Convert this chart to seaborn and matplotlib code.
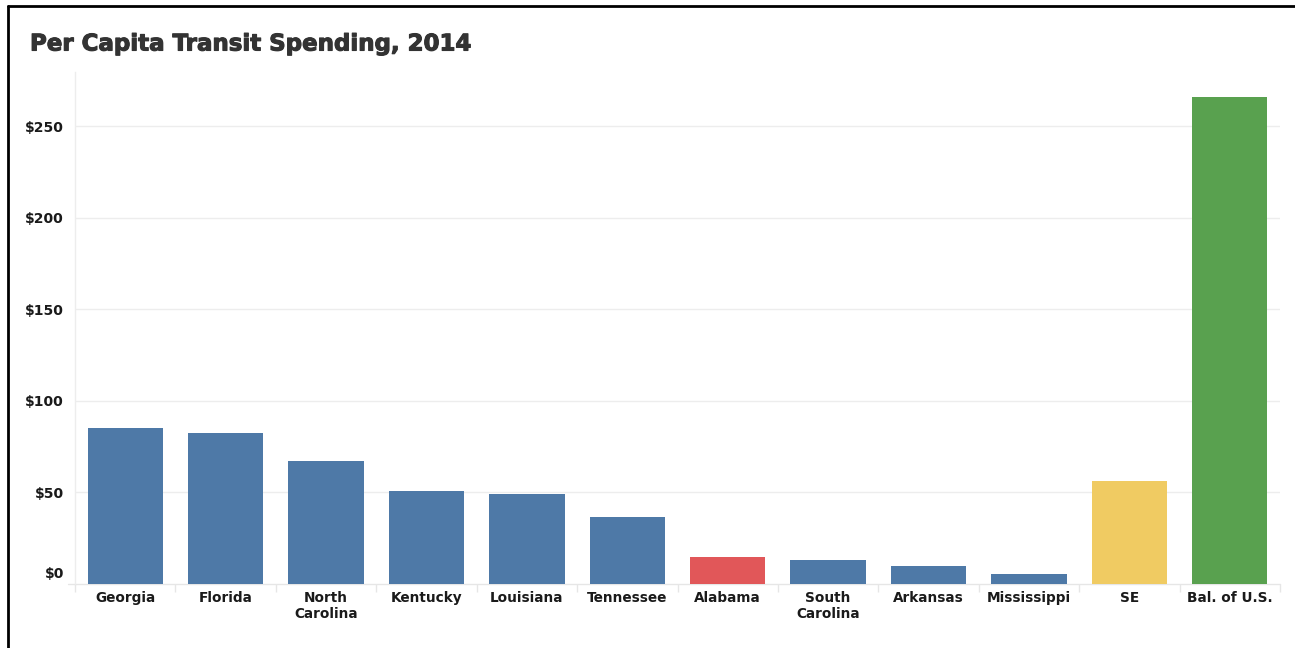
import matplotlib
matplotlib.use("Agg")
import matplotlib.pyplot as plt
import matplotlib.patheffects as pe
from matplotlib.lines import Line2D
from matplotlib.ticker import FixedLocator
from matplotlib.transforms import offset_copy
import seaborn as sns
import pandas as pd

# Per capita transit spending, 2014 (US dollars)
regions = ["Georgia", "Florida", "North\nCarolina", "Kentucky", "Louisiana",
           "Tennessee", "Alabama", "South\nCarolina", "Arkansas", "Mississippi",
           "SE", "Bal. of U.S."]
spending = [85.0, 82.3, 66.9, 50.7, 49.4, 36.5, 14.8, 13.3, 9.8, 5.6, 56.2, 265.7]
groups = ["State"] * 6 + ["Alabama"] + ["State"] * 3 + ["Southeast", "Rest of U.S."]
group_colors = {"State": "#4E79A7", "Alabama": "#E15759",
                "Southeast": "#F0CB62", "Rest of U.S.": "#59A14F"}
y_ticks = [0, 50, 100, 150, 200, 250]
y_tick_labels = ["$0", "$50", "$100", "$150", "$200", "$250"]

df = pd.DataFrame({"region": regions, "spending": spending, "group": groups})

sns.set_theme(style="white")
plt.rcParams["font.family"] = ["DejaVu Sans"]

W, H = 1295, 648
fig = plt.figure(figsize=(W / 100, H / 100), dpi=100)
ax = fig.add_axes([75 / W, 1 - 584 / H, (1280 - 75) / W, (584 - 72) / H])

sns.barplot(data=df, x="region", y="spending", hue="group", order=regions,
            palette=group_colors, dodge=False, width=0.75, legend=False,
            linewidth=0, saturation=1, ax=ax)

ax.set_xlim(-0.5, len(regions) - 0.5)
ax.set_ylim(0, 279.5)
ax.set_xlabel("")
ax.set_ylabel("")

# light horizontal gridlines
grid_color = "#EDEDED"
ax.set_yticks(y_ticks)
ax.set_yticklabels(y_tick_labels)
for v in y_ticks[1:]:
    ax.axhline(v, color=grid_color, lw=1, zorder=0)
ax.add_line(Line2D([-7 / 1205, 1], [0, 0], transform=ax.transAxes,
                   color="#E6E6E6", lw=1, clip_on=False, zorder=0))

for s in ["top", "right", "bottom"]:
    ax.spines[s].set_visible(False)
ax.spines["left"].set_color(grid_color)
ax.spines["left"].set_linewidth(1)
ax.spines["left"].set_zorder(0)

# category separators below the axis
ax.xaxis.set_minor_locator(FixedLocator([i - 0.5 for i in range(len(regions) + 1)]))
ax.tick_params(axis="x", which="minor", length=6, color="#E6E6E6", width=1, bottom=True)
ax.tick_params(axis="x", which="major", length=0, pad=5, labelsize=9.8,
               labelcolor="#1A1A1A")
ax.tick_params(axis="y", length=0, pad=8, labelsize=10, labelcolor="#1A1A1A")
for lbl in ax.get_xticklabels():
    lbl.set_fontweight("bold")
    lbl.set_linespacing(1.22)
for lbl in ax.get_yticklabels():
    lbl.set_fontweight("bold")
zero_lbl = ax.get_yticklabels()[0]
zero_lbl.set_verticalalignment("bottom")
zero_lbl.set_transform(offset_copy(zero_lbl.get_transform(), fig=fig, y=3, units="dots"))

fig.text(30 / W, 1 - 44 / H, "Per Capita Transit Spending, 2014",
         fontsize=16.5, fontweight="bold", color="#333333", va="center", ha="left",
         path_effects=[pe.withStroke(linewidth=0.8, foreground="#333333")])

# frame lines along the top and left edges
fig.add_artist(Line2D([8 / W, 8 / W], [0, 1 - 6 / H], color="black", lw=2))
fig.add_artist(Line2D([8 / W, 1], [1 - 6 / H, 1 - 6 / H], color="black", lw=2))

fig.savefig("out.png", dpi=100)
